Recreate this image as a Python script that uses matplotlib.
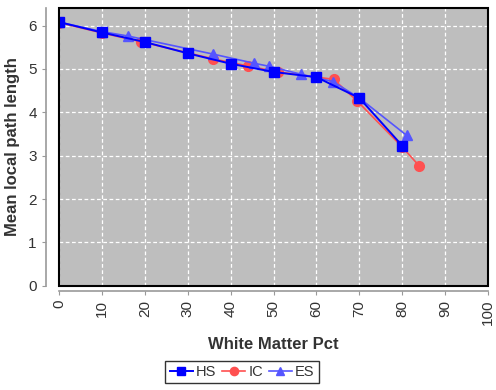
import numpy as np
import matplotlib
matplotlib.use('Agg')
import matplotlib.pyplot as plt

# values
hs_x = [0, 10, 20, 30, 40, 50, 60, 70, 80]
hs_y = [6.08, 5.84, 5.62, 5.36, 5.12, 4.93, 4.81, 4.33, 3.23]
ic_x = [0, 10, 19, 36, 44, 51, 64, 69.5, 80, 84]
ic_y = [6.07, 5.83, 5.63, 5.23, 5.07, 4.93, 4.76, 4.26, 3.20, 2.76]
es_x = [0, 10, 16, 36, 45.5, 49, 56.3, 63.8, 70, 81]
es_y = [6.08, 5.86, 5.76, 5.34, 5.13, 5.06, 4.88, 4.71, 4.33, 3.47]

plt.rcParams['font.family'] = ['Liberation Sans', 'DejaVu Sans']

fig = plt.figure(figsize=(4.96, 3.9), dpi=100)
ax = fig.add_axes([0.119, 0.267, 0.865, 0.712])
ax.set_facecolor('#bebebe')

ax.plot(ic_x, ic_y, color='#ff5050', marker='o', ms=7, lw=1.2, label='IC', zorder=3)
ax.plot(es_x, es_y, color='#5555ff', marker='^', ms=7, lw=1.2, label='ES', zorder=4)
ax.plot(hs_x, hs_y, color='#0000ff', marker='s', ms=7, lw=1.4, label='HS', zorder=5)

ax.set_xlim(0, 100)
ax.set_ylim(0, 6.4)
ax.set_xticks(np.arange(0, 101, 10))
ax.set_yticks(np.arange(0, 7, 1))
ax.grid(True, color='white', linestyle=(0, (3, 2)), lw=0.9)
ax.set_axisbelow(True)

# frame around the plot area
ax.add_patch(plt.Rectangle((0, 0), 1, 1, transform=ax.transAxes, fill=False,
                           ec='black', lw=1.5, zorder=6, clip_on=False))
for s in ['top', 'right']:
    ax.spines[s].set_visible(False)
ax.spines['left'].set_position(('outward', 9.5))
ax.spines['bottom'].set_position(('outward', 3.6))
for s in ['left', 'bottom']:
    ax.spines[s].set_color('#999999')
    ax.spines[s].set_linewidth(1.2)
ax.tick_params(axis='both', colors='#999999', labelcolor='#333333', labelsize=11, length=3)
ax.tick_params(axis='x', labelrotation=90)

ax.set_xlabel('White Matter Pct', fontsize=12, fontweight='bold', color='#333333', labelpad=8)
ax.set_ylabel('Mean local path length', fontsize=12, fontweight='bold', color='#333333', labelpad=6)

h, l = ax.get_legend_handles_labels()
order = [2, 0, 1]
leg = fig.legend([h[i] for i in order], [l[i] for i in order], loc='center',
                 bbox_to_anchor=(0.488, 0.046), ncol=3, frameon=True, fancybox=False,
                 edgecolor='black', fontsize=10.5, handlelength=1.6, handletextpad=0.2,
                 columnspacing=0.4, borderpad=0.3, markerscale=0.85)
leg.get_frame().set_linewidth(1.0)
for t in leg.get_texts():
    t.set_color('#333333')

fig.savefig('out.png', dpi=100)
